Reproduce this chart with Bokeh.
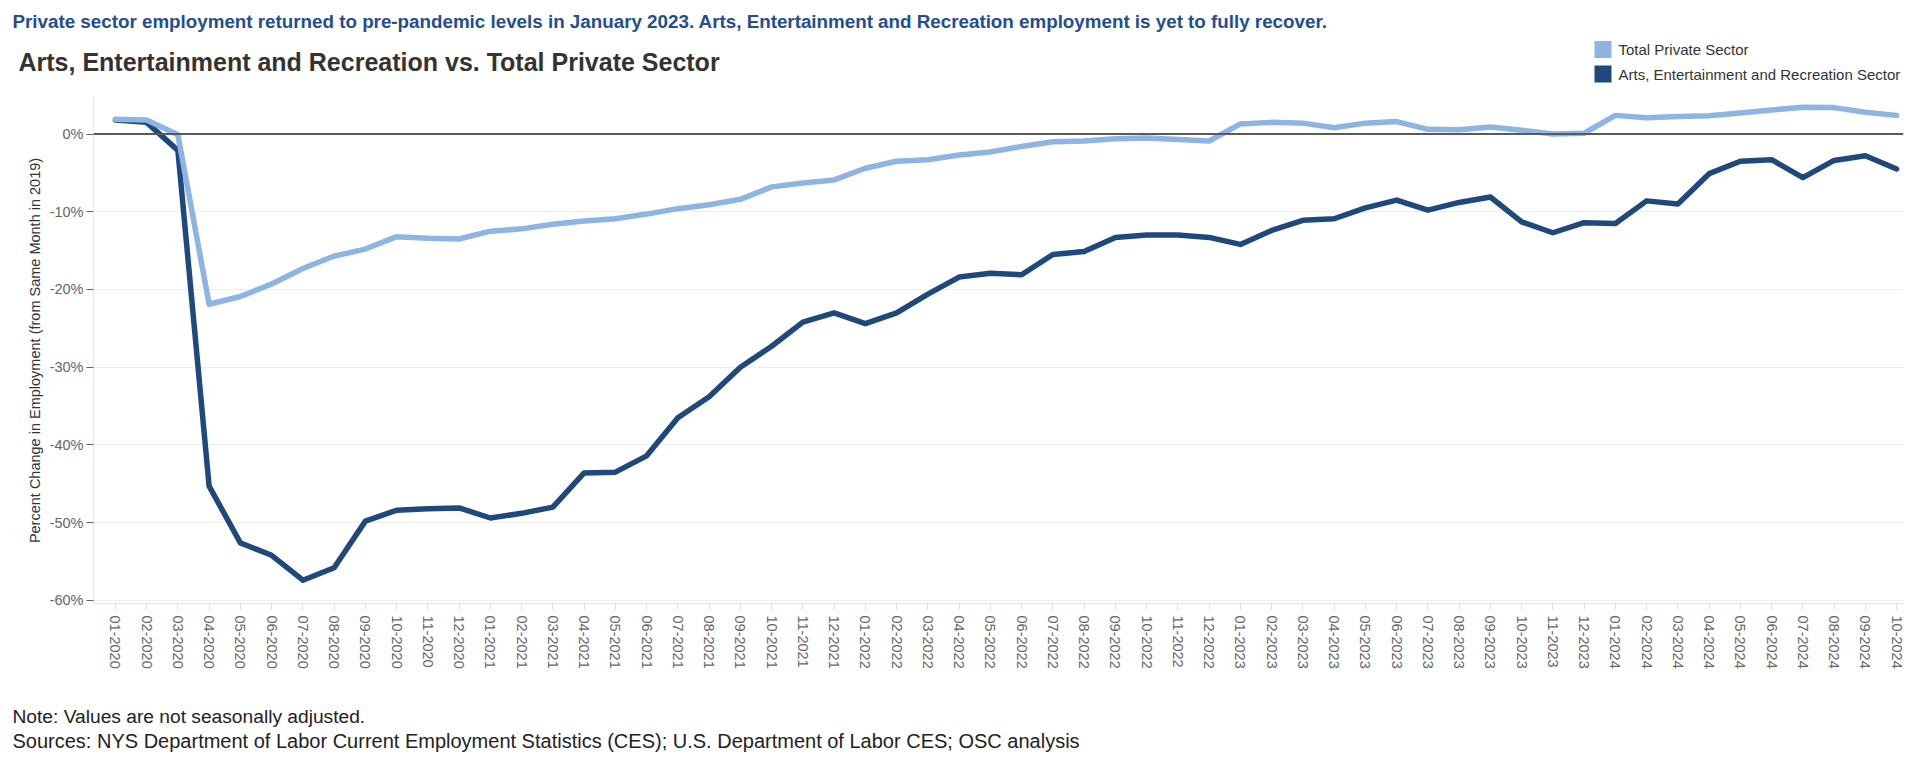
import math
from bokeh.plotting import figure
from bokeh.layouts import column
from bokeh.models import Range1d, FixedTicker, Span, ColumnDataSource
from bokeh.core.properties import value
from bokeh.embed import file_html
from bokeh.resources import INLINE

# ---------------- data ----------------
years = [2020, 2021, 2022, 2023, 2024]
months = [f"{m:02d}-{y}" for y in years for m in range(1, 13)][:58]  # 01-2020 .. 10-2024

total_private = [1.9, 1.8, -0.1, -21.9, -20.9, -19.3, -17.3, -15.7, -14.8, -13.2, -13.4, -13.5,
                 -12.5, -12.2, -11.6, -11.2, -10.9, -10.3, -9.6, -9.1, -8.4, -6.8, -6.3, -5.9,
                 -4.4, -3.5, -3.3, -2.7, -2.3, -1.6, -1.0, -0.9, -0.6, -0.5, -0.7, -0.9,
                 1.3, 1.5, 1.4, 0.8, 1.4, 1.6, 0.6, 0.55, 0.9, 0.5, 0.0, 0.1,
                 2.4, 2.1, 2.25, 2.35, 2.7, 3.1, 3.45, 3.4, 2.8, 2.4]

arts_rec = [1.8, 1.5, -2.1, -45.3, -52.6, -54.2, -57.4, -55.8, -49.8, -48.4, -48.2, -48.1,
            -49.4, -48.8, -48.0, -43.6, -43.5, -41.4, -36.5, -33.8, -30.0, -27.3, -24.2, -23.0,
            -24.4, -23.0, -20.6, -18.4, -17.9, -18.1, -15.5, -15.1, -13.3, -13.0, -13.0, -13.3,
            -14.2, -12.4, -11.1, -10.9, -9.5, -8.5, -9.8, -8.8, -8.1, -11.3, -12.7, -11.4,
            -11.5, -8.6, -9.0, -5.1, -3.5, -3.3, -5.6, -3.4, -2.8, -4.5]

series_names = ["Total Private Sector", "Arts, Entertainment and Recreation Sector"]
y_ticks = [0, -10, -20, -30, -40, -50, -60]
y_tick_labels = ["0%", "-10%", "-20%", "-30%", "-40%", "-50%", "-60%"]

headline = ("Private sector employment returned to pre-pandemic levels in January 2023. "
            "Arts, Entertainment and Recreation employment is yet to fully recover.")
chart_title = "Arts, Entertainment and Recreation vs. Total Private Sector"
y_label = "Percent Change in Employment (from Same Month in 2019)"
note = "Note: Values are not seasonally adjusted."
sources = ("Sources: NYS Department of Labor Current Employment Statistics (CES); "
           "U.S. Department of Labor CES; OSC analysis")

LIGHT = "#8DB4E2"
DARK = "#1F497D"
series_colors = [LIGHT, DARK]
FONT = "Liberation Sans"
W = 1920
HEAD_H, MAIN_H, FOOT_H = 97, 593, 79


def blank_fig(h):
    f = figure(width=W, height=h, output_backend="svg", toolbar_location=None,
               x_range=Range1d(0, W), y_range=Range1d(h, 0),
               x_axis_location=None, y_axis_location=None,
               min_border=0, outline_line_color=None,
               background_fill_color="white", border_fill_color="white")
    f.xgrid.visible = False
    f.ygrid.visible = False
    if "frame_align" in f.properties():
        f.frame_align = False
    return f


# ---------------- header (page-pixel canvas) ----------------
head = blank_fig(HEAD_H)
head.text(x=[12], y=[21], text=[headline], text_font=value(FONT), text_font_size="18.8px",
          text_font_style="bold", text_color="#1F4E91", text_baseline="middle", text_align="left")
head.text(x=[18], y=[61], text=[chart_title], text_font=value(FONT), text_font_size="25px",
          text_font_style="bold", text_color="#333333", text_baseline="middle", text_align="left")

# legend: colour swatches + labels
leg_y = [49, 73.5]
head.rect(x=[1602.5, 1602.5], y=leg_y, width=17, height=17,
          fill_color=series_colors, line_color=None)
head.text(x=[1618, 1618], y=leg_y, text=series_names, text_font=value(FONT),
          text_font_size="15px", text_color="#333333", text_baseline="middle", text_align="left")

# ---------------- main chart ----------------
x = list(range(len(months)))
src = ColumnDataSource(dict(x=x, total=total_private, arts=arts_rec))

p = figure(width=W, height=MAIN_H, output_backend="svg", toolbar_location=None,
           x_range=Range1d(-0.70, 57.22), y_range=Range1d(-60.4, 4.7),
           min_border_left=93, min_border_right=17, min_border_top=0, min_border_bottom=87,
           outline_line_color=None, background_fill_color="white", border_fill_color="white")

p.xgrid.grid_line_color = None
p.ygrid.ticker = FixedTicker(ticks=y_ticks)
p.ygrid.grid_line_color = "#EEEEEE"
p.ygrid.grid_line_width = 1

p.add_layout(Span(location=0, dimension="width", line_color="#5A5A5A", line_width=2))

p.line("x", "arts", source=src, line_color=DARK, line_width=5.5, line_join="round", line_cap="round")
p.line("x", "total", source=src, line_color=LIGHT, line_width=5.5, line_join="round", line_cap="round")

p.yaxis.ticker = FixedTicker(ticks=y_ticks)
p.yaxis.major_label_overrides = dict(zip(y_ticks, y_tick_labels))
p.yaxis.axis_line_color = "#E6E6E6"
p.yaxis.major_tick_line_color = "#666666"
p.yaxis.major_tick_out = 7
p.yaxis.major_tick_in = 0
p.yaxis.minor_tick_line_color = None
p.yaxis.major_label_standoff = 3
p.yaxis.major_label_text_font = FONT
p.yaxis.major_label_text_font_size = "14.5px"
p.yaxis.major_label_text_color = "#666666"
p.yaxis.axis_label = y_label
p.yaxis.axis_label_text_font = FONT
p.yaxis.axis_label_text_font_size = "14.5px"
p.yaxis.axis_label_text_font_style = "normal"
p.yaxis.axis_label_text_color = "#333333"
p.yaxis.axis_label_standoff = 4

p.xaxis.ticker = FixedTicker(ticks=x)
p.xaxis.major_label_overrides = {i: m for i, m in zip(x, months)}
p.xaxis.major_label_orientation = -math.pi / 2
p.xaxis.axis_line_color = "#E6E6E6"
p.xaxis.major_tick_line_color = "#DDDDDD"
p.xaxis.major_tick_out = 6
p.xaxis.major_tick_in = 0
p.xaxis.minor_tick_line_color = None
p.xaxis.major_label_standoff = 6
p.xaxis.major_label_text_font = FONT
p.xaxis.major_label_text_font_size = "14.5px"
p.xaxis.major_label_text_color = "#666666"

# ---------------- footer (page-pixel canvas) ----------------
foot = blank_fig(FOOT_H)
foot.text(x=[12], y=[26], text=[note], text_font=value(FONT),
          text_font_size="19.2px", text_color="#222222", text_baseline="middle", text_align="left")
foot.text(x=[12], y=[50], text=[sources], text_font=value(FONT),
          text_font_size="20px", text_color="#222222", text_baseline="middle", text_align="left")

layout = column(head, p, foot, spacing=0)
open("out.html", "w").write(file_html(layout, INLINE))
